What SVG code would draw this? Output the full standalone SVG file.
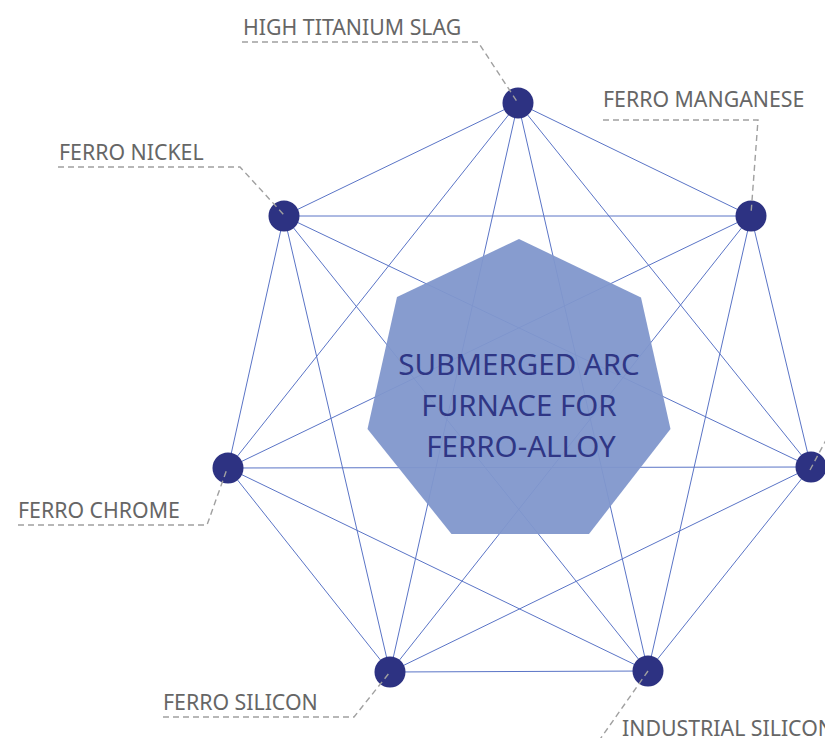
<svg xmlns="http://www.w3.org/2000/svg" width="825" height="738" viewBox="0 0 825 738">
<style>
.edge{stroke:#5a74c6;stroke-width:1;fill:none}
.node{fill:#2d3282}
.lead{stroke:#a0a0a0;stroke-width:1.4;stroke-dasharray:6 4;fill:none}
.lbl{font-family:"Noto Sans","Liberation Sans",sans-serif;font-size:21.3px;fill:#666666}
.ctr{font-family:"Noto Sans","Liberation Sans",sans-serif;font-size:29.5px;fill:#2f3685;text-anchor:middle}
</style>
<rect width="825" height="738" fill="#ffffff"/>
<g id="connectors">
<line class="edge" x1="518" y1="103" x2="751" y2="216"/>
<line class="edge" x1="518" y1="103" x2="811" y2="467"/>
<line class="edge" x1="518" y1="103" x2="648" y2="671"/>
<line class="edge" x1="518" y1="103" x2="390" y2="672"/>
<line class="edge" x1="518" y1="103" x2="228" y2="468"/>
<line class="edge" x1="518" y1="103" x2="284" y2="216"/>
<line class="edge" x1="751" y1="216" x2="811" y2="467"/>
<line class="edge" x1="751" y1="216" x2="648" y2="671"/>
<line class="edge" x1="751" y1="216" x2="390" y2="672"/>
<line class="edge" x1="751" y1="216" x2="228" y2="468"/>
<line class="edge" x1="751" y1="216" x2="284" y2="216"/>
<line class="edge" x1="811" y1="467" x2="648" y2="671"/>
<line class="edge" x1="811" y1="467" x2="390" y2="672"/>
<line class="edge" x1="811" y1="467" x2="228" y2="468"/>
<line class="edge" x1="811" y1="467" x2="284" y2="216"/>
<line class="edge" x1="648" y1="671" x2="390" y2="672"/>
<line class="edge" x1="648" y1="671" x2="228" y2="468"/>
<line class="edge" x1="648" y1="671" x2="284" y2="216"/>
<line class="edge" x1="390" y1="672" x2="228" y2="468"/>
<line class="edge" x1="390" y1="672" x2="284" y2="216"/>
<line class="edge" x1="228" y1="468" x2="284" y2="216"/>
</g>
<g id="center">
<polygon points="519,239 641,297.5 670.5,429 589,534 451.5,534 367.5,429 397,297" fill="#8197cc" fill-opacity="0.95"/>
<text class="ctr" x="519" y="375">SUBMERGED ARC</text>
<text class="ctr" x="519" y="416">FURNACE FOR</text>
<text class="ctr" x="521" y="456.5">FERRO-ALLOY</text>
</g>
<g id="n-high-titanium-slag">
<circle class="node" cx="518" cy="103" r="15.5"/>
<polyline class="lead" points="242,42 478,42 518,103"/>
<text class="lbl" x="243" y="35">HIGH TITANIUM SLAG</text>
</g>
<g id="n-ferro-manganese">
<circle class="node" cx="751" cy="216" r="15.5"/>
<polyline class="lead" points="603,120 758,120 751,214"/>
<text class="lbl" x="603" y="107">FERRO MANGANESE</text>
</g>
<g id="n-right">
<circle class="node" cx="811" cy="467" r="15.5"/>
<polyline class="lead" points="810,470 826,440"/>
</g>
<g id="n-industrial-silicon">
<circle class="node" cx="648" cy="671" r="15.5"/>
<polyline class="lead" points="648,671 596,745"/>
<text class="lbl" x="622" y="736">INDUSTRIAL SILICON</text>
</g>
<g id="n-ferro-silicon">
<circle class="node" cx="390" cy="672" r="15.5"/>
<polyline class="lead" points="163,717 354,717 390,672"/>
<text class="lbl" x="163" y="710">FERRO SILICON</text>
</g>
<g id="n-ferro-chrome">
<circle class="node" cx="228" cy="468" r="15.5"/>
<polyline class="lead" points="18,525 207,525 227,469"/>
<text class="lbl" x="18" y="518">FERRO CHROME</text>
</g>
<g id="n-ferro-nickel">
<circle class="node" cx="284" cy="216" r="15.5"/>
<polyline class="lead" points="58,167 240,167 284,215"/>
<text class="lbl" x="59" y="160">FERRO NICKEL</text>
</g>
</svg>
